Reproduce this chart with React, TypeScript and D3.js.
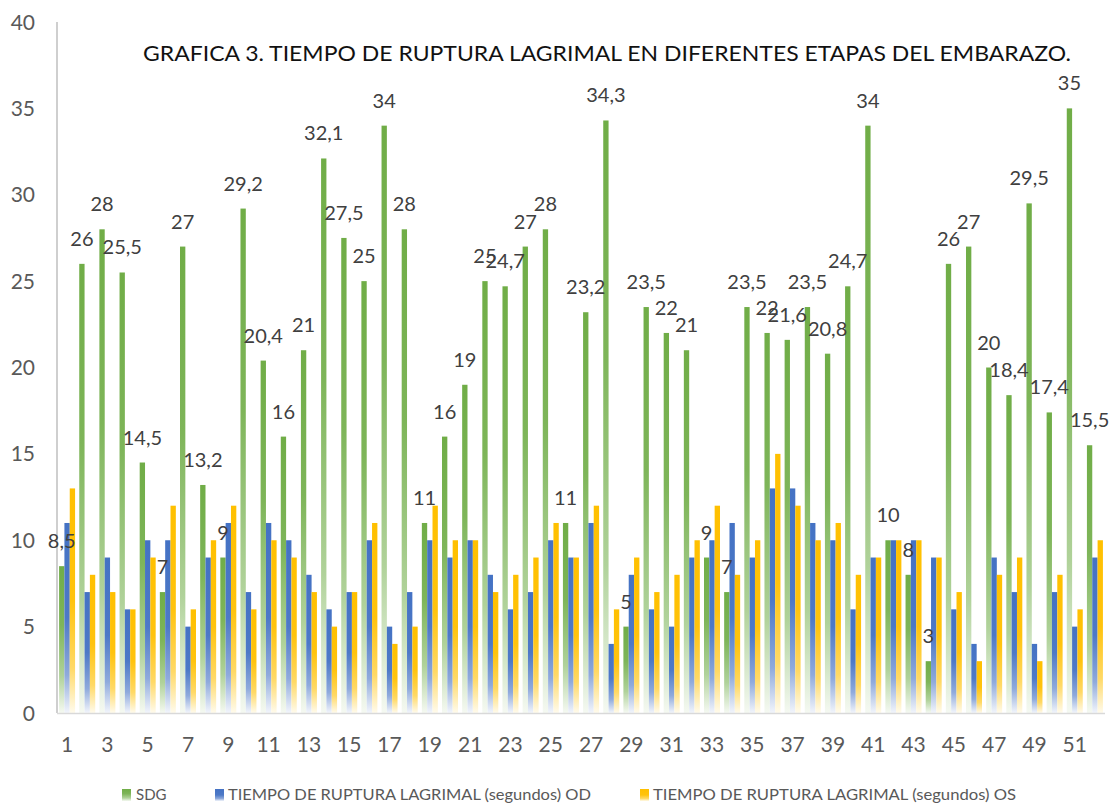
import React from "react";
import * as d3 from "d3";

// categorias (numero de paciente) y valores
const categories = [
  1, 2, 3, 4, 5, 6, 7, 8, 9, 10, 11, 12, 13, 14, 15, 16, 17, 18, 19, 20, 21, 22, 23, 24, 25, 26,
  27, 28, 29, 30, 31, 32, 33, 34, 35, 36, 37, 38, 39, 40, 41, 42, 43, 44, 45, 46, 47, 48, 49, 50, 51, 52,
];
const tickLabels = [1, 3, 5, 7, 9, 11, 13, 15, 17, 19, 21, 23, 25, 27, 29, 31, 33, 35, 37, 39, 41, 43, 45, 47, 49, 51];
const yTicks = [0, 5, 10, 15, 20, 25, 30, 35, 40];

const sdg = [
  8.5, 26, 28, 25.5, 14.5, 7, 27, 13.2, 9, 29.2, 20.4, 16, 21, 32.1, 27.5, 25, 34, 28, 11, 16, 19, 25, 24.7, 27, 28, 11,
  23.2, 34.3, 5, 23.5, 22, 21, 9, 7, 23.5, 22, 21.6, 23.5, 20.8, 24.7, 34, 10, 8, 3, 26, 27, 20, 18.4, 29.5, 17.4, 35, 15.5,
];
const od = [
  11, 7, 9, 6, 10, 10, 5, 9, 11, 7, 11, 10, 8, 6, 7, 10, 5, 7, 10, 9, 10, 8, 6, 7, 10, 9,
  11, 4, 8, 6, 5, 9, 10, 11, 9, 13, 13, 11, 10, 6, 9, 10, 10, 9, 6, 4, 9, 7, 4, 7, 5, 9,
];
const os = [
  13, 8, 7, 6, 9, 12, 6, 10, 12, 6, 10, 9, 7, 5, 7, 11, 4, 5, 12, 10, 10, 7, 8, 9, 11, 9,
  12, 6, 9, 7, 8, 10, 12, 8, 10, 15, 12, 10, 11, 8, 9, 10, 10, 9, 7, 3, 8, 9, 3, 8, 6, 10,
];

const seriesNames = [
  "SDG",
  "TIEMPO DE RUPTURA LAGRIMAL (segundos) OD",
  "TIEMPO DE RUPTURA LAGRIMAL (segundos) OS",
];
const seriesColors = ["#70AD47", "#4472C4", "#FFC000"];

const FONT = "Lato, 'Open Sans', sans-serif";

export default function App() {
  const width = 1113;
  const height = 804;
  const series = [sdg, od, os];

  const x = d3.scaleBand<number>().domain(categories).range([57, 1105]);
  const inner = d3
    .scaleBand<number>()
    .domain([0, 1, 2])
    .range([0, x.bandwidth()])
    .paddingOuter(0.39);
  const y = d3.scaleLinear().domain([0, 40]).range([713, 22]);

  // degradado hacia blanco en la base de cada barra
  const stops = [
    [[0, 0], [0.4, 0.1], [0.75, 0.45], [1, 0.93]],
    [[0, 0], [0.5, 0.05], [0.8, 0.4], [1, 0.93]],
    [[0, 0], [0.5, 0.05], [0.8, 0.4], [1, 0.93]],
  ];

  const fmt = (v: number) => String(v).replace(".", ",");

  const legend = [
    { mx: 122, tx: 136, len: 0 },
    { mx: 215, tx: 228, len: 363 },
    { mx: 640, tx: 653, len: 363 },
  ];

  return (
    <div style={{ position: "absolute", left: 0, top: 0 }}>
      <svg width={width} height={height} style={{ display: "block", background: "#fff" }}>
        <defs>
          {seriesColors.map((c, i) => (
            <linearGradient key={i} id={`grad${i}`} x1="0" y1="0" x2="0" y2="1">
              {stops[i].map(([o, t], j) => (
                <stop key={j} offset={o} stopColor={d3.interpolateRgb(c, "#ffffff")(t)} />
              ))}
            </linearGradient>
          ))}
        </defs>

        {/* titulo */}
        <text
          x={143}
          y={61}
          fontFamily={FONT}
          fontSize={22}
          fill="#111"
          textLength={928}
          lengthAdjust="spacingAndGlyphs"
        >
          GRAFICA 3. TIEMPO DE RUPTURA LAGRIMAL EN DIFERENTES ETAPAS DEL EMBARAZO.
        </text>

        {/* eje y */}
        {yTicks.map((t) => (
          <text
            key={t}
            x={35}
            y={y(t)}
            dy="0.36em"
            textAnchor="end"
            fontFamily={FONT}
            fontSize={21}
            fill="#595959"
          >
            {t}
          </text>
        ))}

        {/* barras */}
        {series.map((vals, si) =>
          vals.map((v, i) => {
            const cat = categories[i];
            return (
              <rect
                key={`${si}-${i}`}
                x={(x(cat) as number) + (inner(si) as number)}
                y={y(v)}
                width={inner.bandwidth()}
                height={y(0) - y(v)}
                fill={`url(#grad${si})`}
              />
            );
          })
        )}

        <line x1={57} x2={57} y1={y(40)} y2={y(0)} stroke="#BFBFBF" strokeWidth={1.5} />
        <line x1={57} x2={1105} y1={y(0) + 0.5} y2={y(0) + 0.5} stroke="#D9D9D9" strokeWidth={1.5} />

        {/* etiquetas de datos SDG */}
        {sdg.map((v, i) => (
          <text
            key={i}
            x={(x(categories[i]) as number) + (inner(0) as number) + inner.bandwidth() / 2}
            y={y(v) - 18}
            textAnchor="middle"
            fontFamily={FONT}
            fontSize={20}
            fill="#404040"
          >
            {fmt(v)}
          </text>
        ))}

        {/* eje x */}
        {tickLabels.map((t) => (
          <text
            key={t}
            x={(x(t) as number) + x.bandwidth() / 2}
            y={752}
            textAnchor="middle"
            fontFamily={FONT}
            fontSize={21}
            fill="#595959"
          >
            {t}
          </text>
        ))}

        {/* leyenda */}
        {seriesNames.map((name, i) => (
          <g key={name}>
            <rect x={legend[i].mx} y={789} width={9} height={12} fill={`url(#grad${i})`} />
            <text
              x={legend[i].tx}
              y={800}
              fontFamily={FONT}
              fontSize={15}
              fill="#595959"
              {...(legend[i].len ? { textLength: legend[i].len, lengthAdjust: "spacingAndGlyphs" } : {})}
            >
              {name}
            </text>
          </g>
        ))}
      </svg>
    </div>
  );
}
